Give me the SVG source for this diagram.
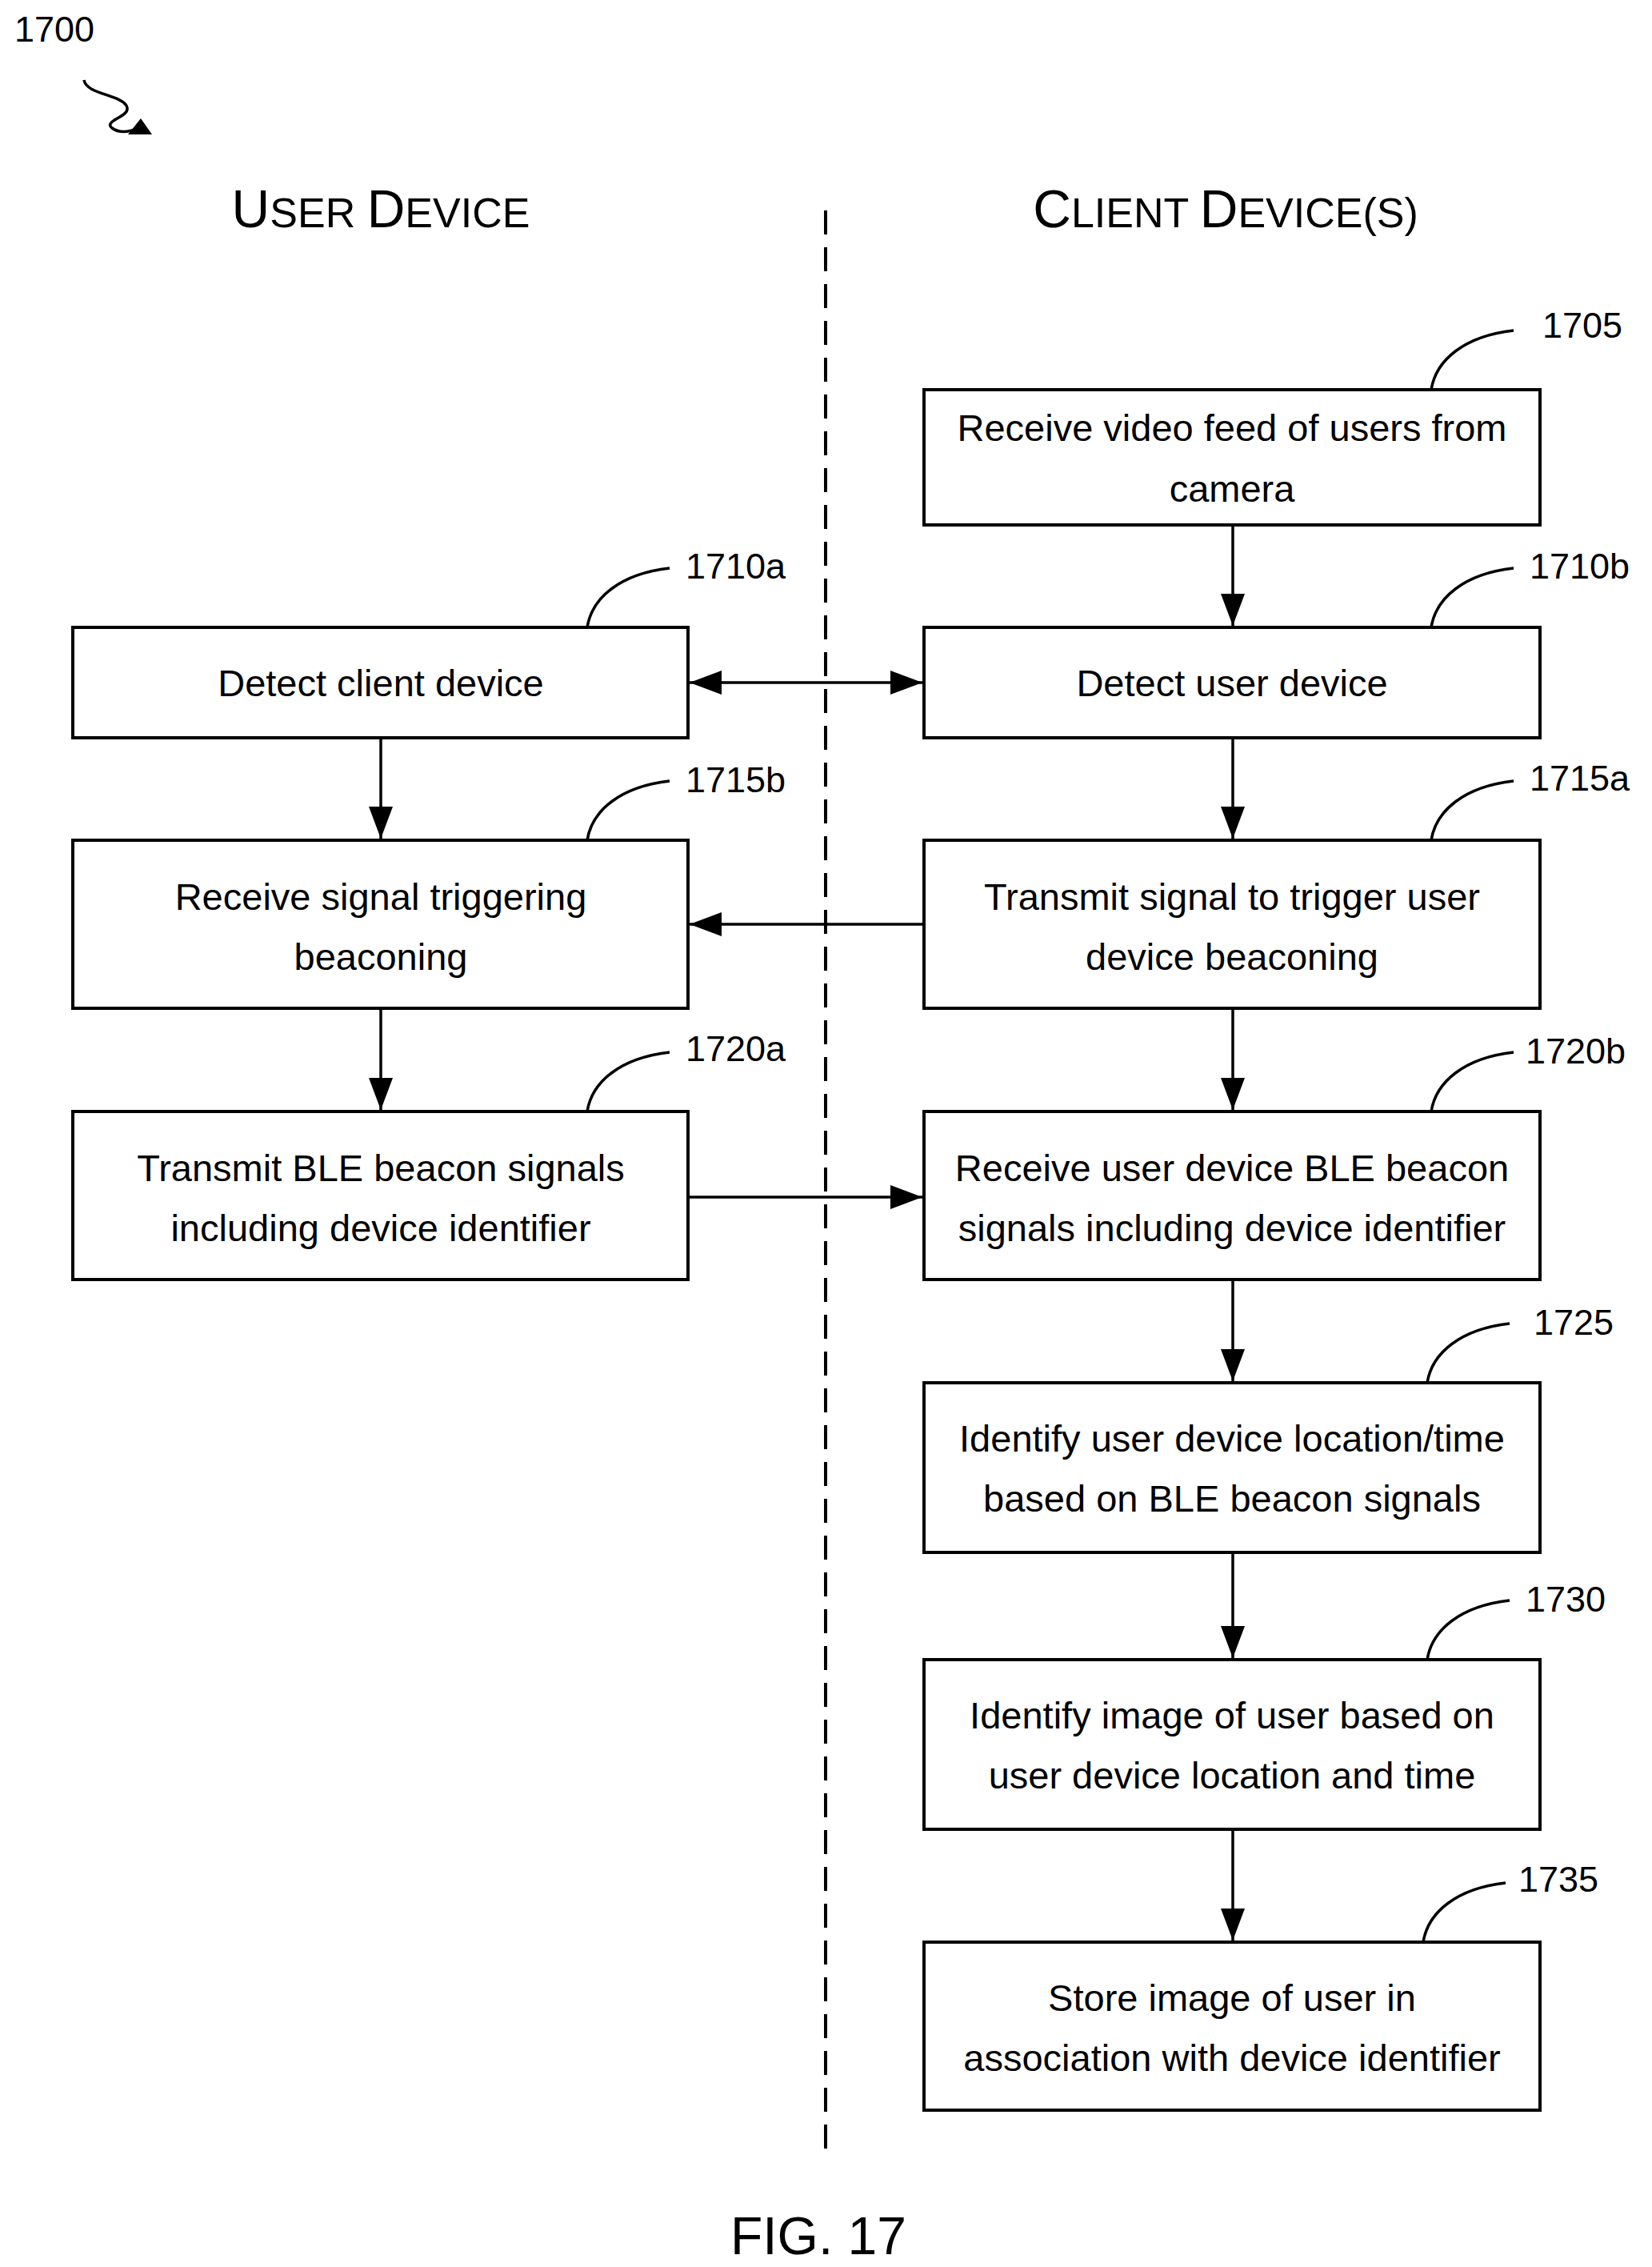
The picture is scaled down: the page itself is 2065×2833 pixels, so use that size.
<svg xmlns="http://www.w3.org/2000/svg" width="2065" height="2833" viewBox="0 0 2065 2833">
<style>
.b{fill:#fff;stroke:#000;stroke-width:4}
.t{font-family:"Liberation Sans",Arial,sans-serif;font-size:47px;text-anchor:middle}
.l{font-family:"Liberation Sans",Arial,sans-serif;font-size:45px}
.h{font-family:"Liberation Sans",Arial,sans-serif;font-size:66px;text-anchor:middle}
.c{fill:none;stroke:#000;stroke-width:3.5}
.a{fill:none;stroke:#000;stroke-width:3.5}
</style>
<defs>
<marker id="ahb" viewBox="0 0 10 10" refX="10" refY="5" markerWidth="40" markerHeight="30" markerUnits="userSpaceOnUse" orient="auto-start-reverse" preserveAspectRatio="none"><path d="M0,0 L10,5 L0,10 z"/></marker>
</defs>
<text class="l" x="18" y="52">1700</text>
<path class="c" d="M105,100 C108,118 150,118 158,132 C166,146 128,150 140,160 C148,166 160,166 172,160"/>
<path d="M190,168 L160,168 L176,148 z"/>
<text class="h" x="476" y="284"><tspan>U</tspan><tspan font-size="52">SER </tspan><tspan>D</tspan><tspan font-size="52">EVICE</tspan></text>
<text class="h" x="1532" y="284"><tspan>C</tspan><tspan font-size="52">LIENT </tspan><tspan>D</tspan><tspan font-size="52">EVICE(S)</tspan></text>
<line x1="1032" y1="263" x2="1032" y2="2690" stroke="#000" stroke-width="4" stroke-dasharray="30,16"/>
<g id="connectors">
<line class="a" x1="1541" y1="656" x2="1541" y2="782" marker-end="url(#ahb)"/>
<line class="a" x1="862" y1="853" x2="1153" y2="853" marker-start="url(#ahb)" marker-end="url(#ahb)"/>
<line class="a" x1="476" y1="922" x2="476" y2="1048" marker-end="url(#ahb)"/>
<line class="a" x1="1541" y1="922" x2="1541" y2="1048" marker-end="url(#ahb)"/>
<line class="a" x1="1155" y1="1155" x2="862" y2="1155" marker-end="url(#ahb)"/>
<line class="a" x1="476" y1="1260" x2="476" y2="1387" marker-end="url(#ahb)"/>
<line class="a" x1="1541" y1="1260" x2="1541" y2="1387" marker-end="url(#ahb)"/>
<line class="a" x1="860" y1="1496" x2="1153" y2="1496" marker-end="url(#ahb)"/>
<line class="a" x1="1541" y1="1599" x2="1541" y2="1726" marker-end="url(#ahb)"/>
<line class="a" x1="1541" y1="1940" x2="1541" y2="2072" marker-end="url(#ahb)"/>
<line class="a" x1="1541" y1="2286" x2="1541" y2="2425" marker-end="url(#ahb)"/>
</g>
<g id="n1705"><rect class="b" x="1155" y="487" width="770" height="169"/>
<text class="t" x="1540" y="551">Receive video feed of users from</text><text class="t" x="1540" y="627">camera</text>
<path class="c" d="M1789,487 C1795,450 1830,420 1892,413"/><text class="l" x="1928" y="422">1705</text></g>
<g id="n1710a"><rect class="b" x="91" y="784" width="769" height="138"/>
<text class="t" x="476" y="870">Detect client device</text>
<path class="c" d="M734,784 C740,747 775,717 837,710"/><text class="l" x="857" y="723">1710a</text></g>
<g id="n1710b"><rect class="b" x="1155" y="784" width="770" height="138"/>
<text class="t" x="1540" y="870">Detect user device</text>
<path class="c" d="M1789,784 C1795,747 1830,717 1892,710"/><text class="l" x="1912" y="723">1710b</text></g>
<g id="n1715b"><rect class="b" x="91" y="1050" width="769" height="210"/>
<text class="t" x="476" y="1137">Receive signal triggering</text><text class="t" x="476" y="1212">beaconing</text>
<path class="c" d="M734,1050 C740,1013 775,983 837,976"/><text class="l" x="857" y="990">1715b</text></g>
<g id="n1715a"><rect class="b" x="1155" y="1050" width="770" height="210"/>
<text class="t" x="1540" y="1137">Transmit signal to trigger user</text><text class="t" x="1540" y="1212">device beaconing</text>
<path class="c" d="M1789,1050 C1795,1013 1830,983 1892,976"/><text class="l" x="1912" y="988">1715a</text></g>
<g id="n1720a"><rect class="b" x="91" y="1389" width="769" height="210"/>
<text class="t" x="476" y="1476">Transmit BLE beacon signals</text><text class="t" x="476" y="1551">including device identifier</text>
<path class="c" d="M734,1389 C740,1352 775,1322 837,1315"/><text class="l" x="857" y="1326">1720a</text></g>
<g id="n1720b"><rect class="b" x="1155" y="1389" width="770" height="210"/>
<text class="t" x="1540" y="1476">Receive user device BLE beacon</text><text class="t" x="1540" y="1551">signals including device identifier</text>
<path class="c" d="M1789,1389 C1795,1352 1830,1322 1892,1315"/><text class="l" x="1907" y="1329">1720b</text></g>
<g id="n1725"><rect class="b" x="1155" y="1728" width="770" height="212"/>
<text class="t" x="1540" y="1814">Identify user device location/time</text><text class="t" x="1540" y="1889">based on BLE beacon signals</text>
<path class="c" d="M1784,1728 C1790,1691 1825,1661 1887,1654"/><text class="l" x="1917" y="1668">1725</text></g>
<g id="n1730"><rect class="b" x="1155" y="2074" width="770" height="212"/>
<text class="t" x="1540" y="2160">Identify image of user based on</text><text class="t" x="1540" y="2235">user device location and time</text>
<path class="c" d="M1784,2074 C1790,2037 1825,2007 1887,2000"/><text class="l" x="1907" y="2014">1730</text></g>
<g id="n1735"><rect class="b" x="1155" y="2427" width="770" height="210"/>
<text class="t" x="1540" y="2513">Store image of user in</text><text class="t" x="1540" y="2588">association with device identifier</text>
<path class="c" d="M1779,2427 C1785,2390 1820,2360 1882,2353"/><text class="l" x="1898" y="2364">1735</text></g>
<text class="h" x="1023" y="2817" font-size="70">FIG. 17</text>
</svg>
